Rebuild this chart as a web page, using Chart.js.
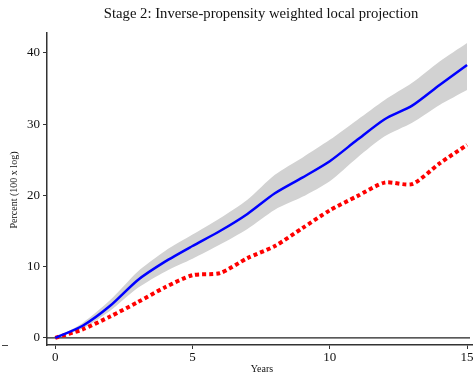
<!DOCTYPE html>
<html>
<head>
<meta charset="utf-8">
<script src="https://cdn.jsdelivr.net/npm/chart.js@4/dist/chart.umd.min.js"></script>
<style>
  html, body { margin: 0; padding: 0; background: #fff; }
  #wrap { width: 475px; height: 376px; position: relative; }
</style>
</head>
<body>
<div id="wrap"><canvas id="chart"></canvas></div>
<script>
// Données
const years = [0, 1, 2, 3, 4, 5, 6, 7, 8, 9, 10, 11, 12, 13, 14, 15];
const ipwEstimate = [0, 1.7, 4.5, 8.1, 10.7, 12.9, 15.0, 17.4, 20.3, 22.5, 24.8, 27.8, 30.7, 32.6, 35.5, 38.3];
const ipwUpper = [0, 2.1, 5.3, 9.3, 12.2, 14.5, 16.8, 19.4, 22.9, 25.3, 27.8, 30.6, 33.4, 35.8, 38.8, 41.4];
const ipwLower = [0, 1.3, 3.8, 7.0, 9.3, 11.1, 13.1, 15.3, 18.0, 19.8, 22.0, 25.3, 28.3, 30.2, 32.7, 34.8];
const olsEstimate = [0, 1.2, 3.0, 5.0, 7.1, 8.8, 9.1, 11.2, 12.9, 15.4, 17.9, 19.9, 21.8, 21.6, 24.5, 27.1];
const xTicks = [0, 5, 10, 15];
const yTicks = [0, 10, 20, 30, 40];

const titleText = 'Stage 2: Inverse-propensity weighted local projection';
const yTitle = 'Percent (100 x log)';
const xTitle = 'Years';
const serif = '"Liberation Serif", "DejaVu Serif", serif';

const toPoints = arr => years.map((x, i) => ({ x: x, y: arr[i] }));

// Titres et trait à zéro dessinés à la main
const decorations = {
  id: 'decorations',
  beforeDatasetsDraw(chart) {
    const { ctx, chartArea, scales } = chart;
    const y0 = scales.y.getPixelForValue(0);
    ctx.save();
    ctx.strokeStyle = '#222';
    ctx.lineWidth = 1.2;
    ctx.beginPath();
    ctx.moveTo(chartArea.left, y0);
    ctx.lineTo(chartArea.right - 2, y0);
    ctx.stroke();
    ctx.restore();
  },
  afterDraw(chart) {
    const { ctx, chartArea } = chart;
    ctx.save();
    ctx.fillStyle = '#111';
    ctx.textAlign = 'center';
    ctx.textBaseline = 'middle';
    ctx.font = '14.7px ' + serif;
    ctx.fillText(titleText, 261, 14);
    ctx.font = '10px ' + serif;
    ctx.fillText(xTitle, 262, 369);
    ctx.translate(14, 190);
    ctx.rotate(-Math.PI / 2);
    ctx.fillText(yTitle, 0, 0);
    ctx.restore();
    // petit trait isolé en bas à gauche
    ctx.save();
    ctx.strokeStyle = '#444';
    ctx.lineWidth = 1;
    ctx.beginPath();
    ctx.moveTo(2, chartArea.bottom + 0.5);
    ctx.lineTo(8, chartArea.bottom + 0.5);
    ctx.stroke();
    ctx.restore();
  }
};

new Chart(document.getElementById('chart'), {
  type: 'line',
  data: {
    datasets: [
      {
        label: 'upper',
        data: toPoints(ipwUpper),
        borderWidth: 0,
        pointRadius: 0,
        backgroundColor: '#d2d2d2',
        fill: '+1',
        tension: 0.25,
        order: 3
      },
      {
        label: 'lower',
        data: toPoints(ipwLower),
        borderWidth: 0,
        pointRadius: 0,
        fill: false,
        tension: 0.25,
        order: 3
      },
      {
        label: 'IPW',
        data: toPoints(ipwEstimate),
        borderColor: '#0000ff',
        borderWidth: 2.5,
        pointRadius: 0,
        fill: false,
        tension: 0.25,
        order: 1
      },
      {
        label: 'OLS',
        data: toPoints(olsEstimate),
        borderColor: '#ff0000',
        borderWidth: 4,
        borderDash: [4, 3],
        borderCapStyle: 'butt',
        pointRadius: 0,
        fill: false,
        tension: 0.25,
        order: 2
      }
    ]
  },
  options: {
    responsive: true,
    maintainAspectRatio: false,
    animation: false,
    layout: { padding: { top: 33, right: 3, left: 0, bottom: 0 } },
    plugins: {
      legend: { display: false },
      title: { display: false },
      tooltip: { enabled: false }
    },
    scales: {
      x: {
        type: 'linear',
        min: -0.3,
        max: 15.18,
        afterBuildTicks: scale => { scale.ticks = xTicks.map(v => ({ value: v })); },
        afterFit: scale => { scale.height = 31; },
        grid: { drawOnChartArea: false, drawTicks: true, tickLength: 4, color: '#333', lineWidth: 1 },
        border: { display: true, color: '#333', width: 1.5 },
        ticks: { color: '#111', font: { family: serif, size: 13 }, padding: 1, maxRotation: 0 }
      },
      y: {
        type: 'linear',
        min: -1,
        max: 42.8,
        afterBuildTicks: scale => { scale.ticks = yTicks.map(v => ({ value: v })); },
        afterFit: scale => { scale.width = 47; },
        grid: { drawOnChartArea: false, drawTicks: true, tickLength: 4, color: '#333', lineWidth: 1 },
        border: { display: true, color: '#333', width: 1.5 },
        ticks: { color: '#111', font: { family: serif, size: 13 }, padding: 3 }
      }
    }
  },
  plugins: [decorations]
});
</script>
</body>
</html>
